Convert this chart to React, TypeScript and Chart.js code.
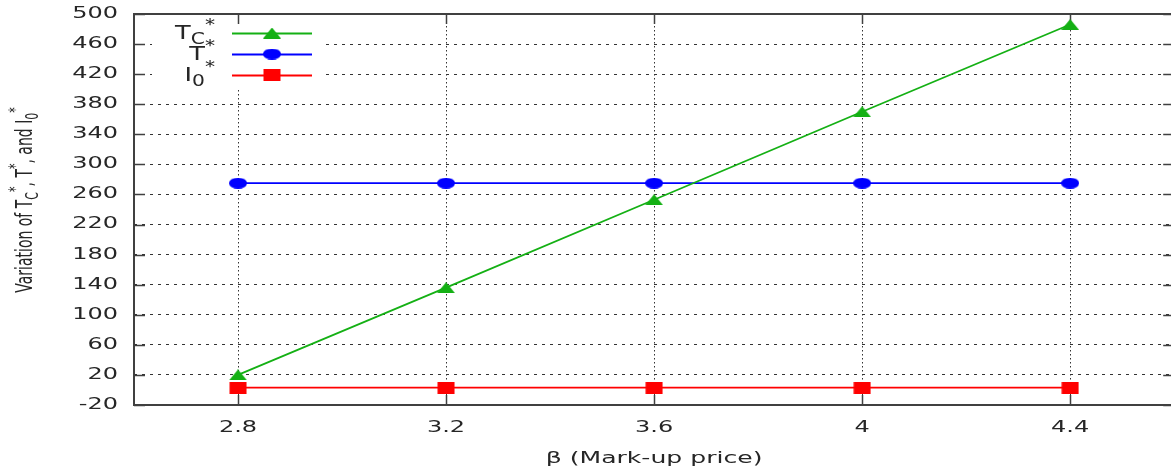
import { useEffect, useRef } from 'react';
import { Chart, registerables } from 'chart.js';

Chart.register(...registerables);

// β (mark-up price) values along the horizontal axis
const betaValues = [2.8, 3.2, 3.6, 4.0, 4.4];
// Optimal cycle time T_C*
const tcValues = [20, 136, 253, 370, 486];
// Optimal T*
const tValues = [275, 275, 275, 275, 275];
// Optimal initial inventory I_0*
const i0Values = [3, 3, 3, 3, 3];

const xTicks = [2.8, 3.2, 3.6, 4, 4.4];
const xTickLabels = ['2.8', '3.2', '3.6', '4', '4.4'];
const yTicks = [-20, 20, 60, 100, 140, 180, 220, 260, 300, 340, 380, 420, 460, 500];
const yTickLabels = ['-20', '20', '60', '100', '140', '180', '220', '260', '300', '340', '380', '420', '460', '500'];

const seriesColors = ['#14b014', '#0000ff', '#ff0000'];
const seriesMarkers = ['triangle', 'ellipse', 'square'];

type Seg = { text: string; pos?: 'sub' | 'sup' };

const legendLabels: Seg[][] = [
  [{ text: 'T' }, { text: 'C', pos: 'sub' }, { text: '*', pos: 'sup' }],
  [{ text: 'T' }, { text: '*', pos: 'sup' }],
  [{ text: 'I' }, { text: '0', pos: 'sub' }, { text: '*', pos: 'sup' }],
];

const yTitle: Seg[] = [
  { text: 'Variation of T' },
  { text: 'C', pos: 'sub' },
  { text: '*', pos: 'sup' },
  { text: ', T' },
  { text: '*', pos: 'sup' },
  { text: ', and I' },
  { text: '0', pos: 'sub' },
  { text: '*', pos: 'sup' },
];
const xTitle: Seg[] = [{ text: 'β (Mark-up price)' }];

const FONT = '"DejaVu Sans", sans-serif';
const TEXT_COLOR = '#262626';
const FRAME_COLOR = '#404040';
const STRETCH = 1.6;

function makeMarker(kind: string, color: string): HTMLCanvasElement {
  const c = document.createElement('canvas');
  const w = 18;
  const h = kind === 'square' ? 12 : 11;
  c.width = w;
  c.height = h;
  const g = c.getContext('2d')!;
  g.fillStyle = color;
  g.beginPath();
  if (kind === 'triangle') {
    g.moveTo(w / 2, 0);
    g.lineTo(w, h);
    g.lineTo(0, h);
    g.closePath();
  } else if (kind === 'ellipse') {
    g.ellipse(w / 2, h / 2, w / 2, h / 2, 0, 0, Math.PI * 2);
  } else {
    g.rect(0.5, 0, w - 1, h);
  }
  g.fill();
  return c;
}

function drawRich(
  ctx: CanvasRenderingContext2D,
  segs: Seg[],
  x: number,
  y: number,
  size: number,
  align: 'left' | 'right' | 'center',
  sx: number,
  rotate = 0,
) {
  const fontFor = (s: Seg) => `${s.pos ? Math.round(size * 0.8) : size}px ${FONT}`;
  const widths = segs.map((s) => {
    ctx.font = fontFor(s);
    return ctx.measureText(s.text).width;
  });
  const total = widths.reduce((a, b) => a + b, 0);
  ctx.save();
  ctx.translate(x, y);
  ctx.scale(sx, 1);
  if (rotate) ctx.rotate(rotate);
  ctx.fillStyle = TEXT_COLOR;
  ctx.textBaseline = 'middle';
  ctx.textAlign = 'left';
  let cx = align === 'right' ? -total : align === 'center' ? -total / 2 : 0;
  segs.forEach((s, i) => {
    ctx.font = fontFor(s);
    const dy = s.pos === 'sub' ? size * 0.32 : s.pos === 'sup' ? -size * 0.42 : 0;
    ctx.fillText(s.text, cx, dy);
    cx += widths[i];
  });
  ctx.restore();
}

export default function App() {
  const canvasRef = useRef<HTMLCanvasElement | null>(null);

  useEffect(() => {
    const canvas = canvasRef.current;
    if (!canvas) return;
    const markers = seriesMarkers.map((k, i) => makeMarker(k, seriesColors[i]));

    const framePlugin = {
      id: 'frameAndKey',
      beforeDatasetsDraw(chart: any) {
        const { ctx, chartArea } = chart;
        const { left, right, top, bottom } = chartArea;
        const xs = chart.scales.x;
        const ys = chart.scales.y;
        ctx.save();
        // opaque key box
        ctx.fillStyle = '#ffffff';
        ctx.fillRect(152, top + 1, 171, 73);
        // tick marks pointing inwards on all four sides
        ctx.strokeStyle = FRAME_COLOR;
        ctx.lineWidth = 1.5;
        ctx.beginPath();
        yTicks.forEach((v) => {
          const py = Math.round(ys.getPixelForValue(v)) + 0.5;
          ctx.moveTo(left, py);
          ctx.lineTo(left + 11, py);
          ctx.moveTo(right, py);
          ctx.lineTo(right - 11, py);
        });
        xTicks.forEach((v) => {
          const px = Math.round(xs.getPixelForValue(v)) + 0.5;
          ctx.moveTo(px, bottom);
          ctx.lineTo(px, bottom - 10);
          ctx.moveTo(px, top);
          ctx.lineTo(px, top + 10);
        });
        ctx.stroke();
        ctx.lineWidth = 2;
        ctx.strokeRect(left, top, right - left, bottom - top);
        ctx.restore();
      },
      afterDraw(chart: any) {
        const { ctx, chartArea } = chart;
        const xs = chart.scales.x;
        const ys = chart.scales.y;
        yTicks.forEach((v, i) => {
          drawRich(ctx, [{ text: yTickLabels[i] }], 118, ys.getPixelForValue(v), 15, 'right', STRETCH);
        });
        xTicks.forEach((v, i) => {
          drawRich(ctx, [{ text: xTickLabels[i] }], xs.getPixelForValue(v), 428, 15, 'center', STRETCH);
        });
        drawRich(ctx, xTitle, (chartArea.left + chartArea.right) / 2, 459, 15.7, 'center', STRETCH);
        drawRich(ctx, yTitle, 26, 200, 14, 'center', STRETCH, -Math.PI / 2);

        // key entries
        const rows = [33, 54, 75];
        chart.data.datasets.forEach((ds: any, i: number) => {
          const y = rows[i];
          drawRich(ctx, legendLabels[i], 215, y + 1, 19, 'right', 1.35);
          ctx.save();
          ctx.strokeStyle = ds.borderColor;
          ctx.lineWidth = ds.borderWidth;
          ctx.beginPath();
          ctx.moveTo(232, y + 0.5);
          ctx.lineTo(312, y + 0.5);
          ctx.stroke();
          const m = markers[i];
          ctx.drawImage(m, 272 - m.width / 2, y - m.height / 2);
          ctx.restore();
        });
      },
    };

    const mk = (vals: number[]) => betaValues.map((x, i) => ({ x, y: vals[i] }));
    const seriesData = [tcValues, tValues, i0Values];
    const names = ['TC*', 'T*', 'I0*'];

    const chart = new Chart(canvas, {
      type: 'line',
      data: {
        datasets: seriesData.map((vals, i) => ({
          label: names[i],
          data: mk(vals),
          borderColor: seriesColors[i],
          backgroundColor: seriesColors[i],
          borderWidth: 1.8,
          pointStyle: markers[i] as any,
          pointRadius: 8,
          fill: false,
          tension: 0,
          clip: false as any,
        })),
      },
      options: {
        animation: false,
        responsive: false,
        devicePixelRatio: 1,
        layout: { padding: { left: 134, top: 14, right: 6, bottom: 67 } },
        plugins: { legend: { display: false }, tooltip: { enabled: false } },
        scales: {
          x: {
            type: 'linear',
            min: 2.6,
            max: 4.6,
            afterBuildTicks: (s: any) => {
              s.ticks = xTicks.map((v) => ({ value: v }));
            },
            ticks: { display: false },
            grid: { color: '#333333', lineWidth: 1, drawTicks: false },
            border: { display: false, dash: [1.5, 2.5] },
          },
          y: {
            type: 'linear',
            min: -20,
            max: 500,
            afterBuildTicks: (s: any) => {
              s.ticks = yTicks.map((v) => ({ value: v }));
            },
            ticks: { display: false },
            grid: { color: '#333333', lineWidth: 1, drawTicks: false },
            border: { display: false, dash: [3, 5] },
          },
        },
      },
      plugins: [framePlugin],
    });
    return () => chart.destroy();
  }, []);

  return (
    <div style={{ position: 'fixed', left: 0, top: 0, width: 1171, height: 472, overflow: 'hidden', background: '#fff' }}>
      <canvas ref={canvasRef} width={1184} height={472} />
    </div>
  );
}
